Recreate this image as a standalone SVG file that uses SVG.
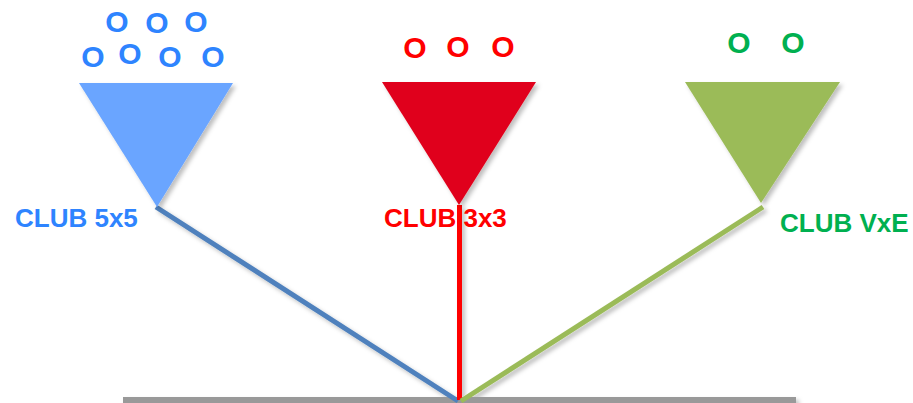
<svg xmlns="http://www.w3.org/2000/svg" width="913" height="403" viewBox="0 0 913 403">
<defs>
<filter id="sh" x="-20%" y="-20%" width="140%" height="140%">
<feDropShadow dx="3" dy="3" stdDeviation="2" flood-color="#000" flood-opacity="0.25"/>
</filter>
<style>
.o{font-family:"Liberation Sans",Arial,sans-serif;font-size:30px;font-weight:bold;text-anchor:middle}
.lbl{font-family:"Liberation Sans",Arial,sans-serif;font-size:26px;font-weight:bold}
.b{fill:#2E84FF}
.r{fill:#FF0000}
.g{fill:#00B050}
.ln{fill:none;stroke-width:5;stroke-linecap:butt}
</style>
</defs>
<rect width="913" height="403" fill="#fff"/>
<g id="connectors" filter="url(#sh)">
<rect x="123" y="397" width="673" height="6" fill="#999999"/>
<line class="ln" x1="156" y1="207" x2="458" y2="401" stroke="#4F81BD"/>
<line class="ln" x1="459.5" y1="205" x2="459.5" y2="400" stroke="#FF0000"/>
<line class="ln" x1="763" y1="207" x2="461" y2="401" stroke="#9BBB59"/>
</g>
<g id="club5x5">
<polygon points="79,83 233,83 157,207" fill="#6AA5FF" filter="url(#sh)"/>
<text class="o b" x="117" y="32">O</text>
<text class="o b" x="157" y="33">O</text>
<text class="o b" x="196" y="32">O</text>
<text class="o b" x="93" y="67">O</text>
<text class="o b" x="130" y="64">O</text>
<text class="o b" x="170" y="67">O</text>
<text class="o b" x="213" y="67">O</text>
<text class="lbl b" x="15" y="227">CLUB 5x5</text>
</g>
<g id="club3x3">
<polygon points="382,82 536,82 459,205" fill="#E0001B" filter="url(#sh)"/>
<text class="o r" x="415" y="58">O</text>
<text class="o r" x="458" y="57">O</text>
<text class="o r" x="503" y="57">O</text>
<text class="lbl r" x="384" y="227">CLUB 3x3</text>
</g>
<g id="clubVxE">
<polygon points="685,82 840,82 761,203" fill="#9BBB59" filter="url(#sh)"/>
<text class="o g" x="739" y="53">O</text>
<text class="o g" x="793" y="53">O</text>
<text class="lbl g" x="780" y="232">CLUB VxE</text>
</g>
</svg>
